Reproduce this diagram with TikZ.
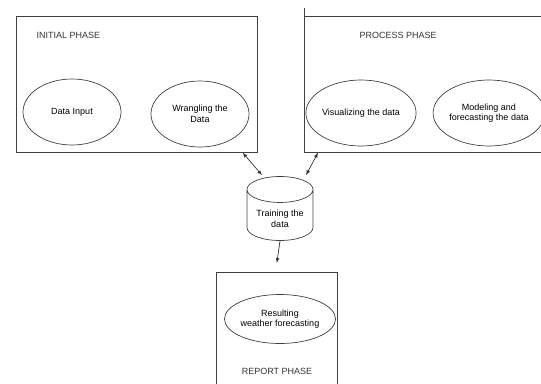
\documentclass[tikz,border=0pt]{standalone}
\usepackage{fontspec}
\setmainfont{Liberation Sans}
\usetikzlibrary{calc}
\usetikzlibrary{shapes.geometric}

\begin{document}
\begin{tikzpicture}[x=1pt,y=-1pt,line width=0.7pt,font=\fontsize{9}{10.5}\selectfont] %% tikz
	\tikzstyle{phase}=[draw=black!75,rectangle,anchor=north west,inner sep=0pt];
	\tikzstyle{task}=[draw=black!75,ellipse,align=center,inner sep=0pt,minimum width=98pt,minimum height=66pt];
	\useasboundingbox (0,0) rectangle (541,383);
	%% phases
	\node[phase,minimum width=241pt,minimum height=136pt] (init) at (16,16) {};
	\node[phase,minimum width=260pt,minimum height=136pt] (proc) at (304,16) {};
	\draw[black!75] (proc.north west) -- ++(0,-8);
	\node[phase,minimum width=121pt,minimum height=130pt] (rep) at (216,272) {};
	\node[anchor=west,text=black!80] (initname) at (33,35) {INITIAL PHASE};
	\node[anchor=west,text=black!80] (procname) at (356,35) {PROCESS PHASE};
	\node[text=black!80] (repname) at (277,371) {REPORT PHASE};
	%% tasks
	\node[task] (input) at (72,112) {Data Input};
	\node[task] (wrangle) at (200,114) {Wrangling the\\Data};
	\node[task] (visual) at (361,113) {Visualizing the data};
	\node[task] (model) at (489,113) {Modeling and\\forecasting the data};
	\node[task,minimum width=96pt,minimum height=49pt] (result) at (280,319) {Resulting\\weather forecasting};
	%% training store
	\node[draw=black!75,cylinder,shape border rotate=90,aspect=0.55,minimum width=66pt,minimum height=64pt,inner sep=0pt,anchor=shape center] (train) at (280,208.5) {\phantom{Training the}};
	\node[align=center] (trainname) at (280,219) {Training the\\data};
	\draw[<->,>=latex,black!80] ($(init.south east)+(-15,0)$) -- ($(train.north)+(-18,-1)$);
	\draw[<->,>=latex,black!80] ($(proc.south west)+(14,0)$) -- ($(train.north)+(26,-1)$);
	\draw[->,>=latex,black!80] (train.south) -- ($(rep.north)+(0,-9)$);
\end{tikzpicture}
\end{document}
